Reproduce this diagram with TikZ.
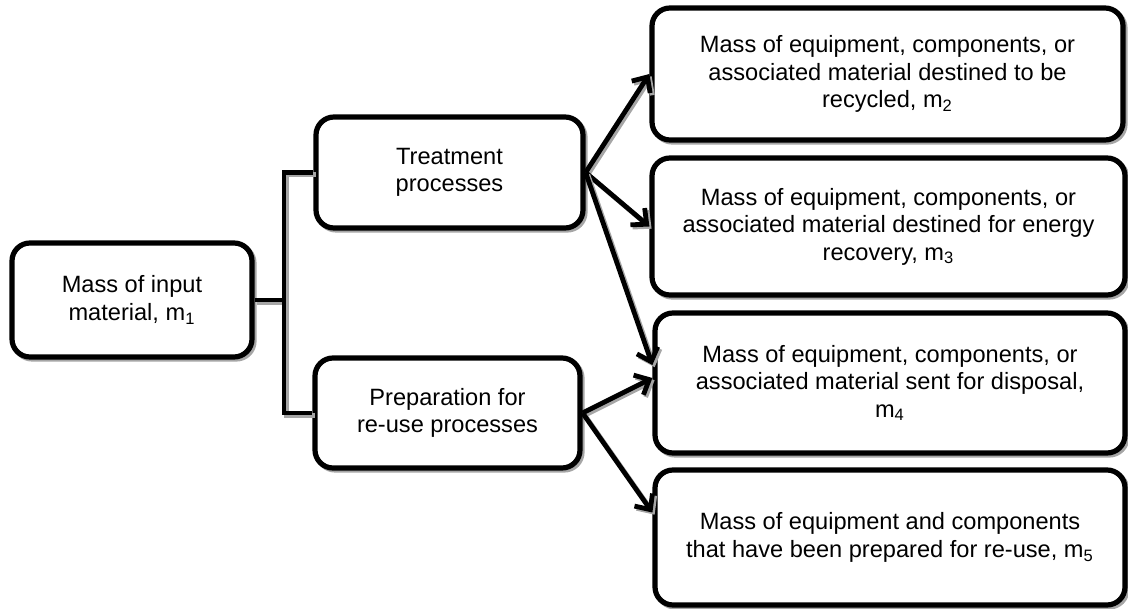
\documentclass[tikz,border=0pt]{standalone}
\usepackage{fontspec}
\setmainfont{Liberation Sans}
\usetikzlibrary{arrows.meta,calc}
\begin{document}
\begin{tikzpicture}[x=0.5pt,y=-0.5pt,
  shad/.style={preaction={draw=black!35, line width=2.4pt, transform canvas={shift={(1.1pt,-1.1pt)}}}},
  box/.style={draw, line width=2.6pt, rounded corners=9pt, fill=white, align=center, inner sep=0pt, font=\fontsize{11.8}{13.8}\selectfont, shad},
  conn/.style={line width=2.4pt, shad},
  arr/.style={conn, -{Straight Barb[length=6pt,width=11pt]}}
]
\useasboundingbox (0,0) rectangle (1128,609);

\node[box, minimum width=120pt, minimum height=57pt] (A) at (132,300) {Mass of input\\material, m\textsubscript{1}};
\node[box, minimum width=133.5pt, minimum height=55.5pt] (T) at (449.5,172.5) {Treatment\\processes};
\node[box, minimum width=132.5pt, minimum height=55pt] (P) at (447.5,413) {Preparation for\\re-use processes};
\node[box, minimum width=235.5pt, minimum height=66pt] (R1) at (887.5,74) {Mass of equipment, components, or\\associated material destined to be\\recycled, m\textsubscript{2}};
\node[box, minimum width=236.5pt, minimum height=68.5pt] (R2) at (888.5,226.5) {Mass of equipment, components, or\\associated material destined for energy\\recovery, m\textsubscript{3}};
\node[box, minimum width=235pt, minimum height=70pt] (R3) at (890,383) {Mass of equipment, components, or\\associated material sent for disposal,\\m\textsubscript{4}};
\node[box, minimum width=235pt, minimum height=67.5pt] (R4) at (890,537.5) {Mass of equipment and components\\that have been prepared for re-use, m\textsubscript{5}};

\coordinate (bx) at (284,300);
\draw[conn] (A.east) -- (A.east -| bx);
\draw[conn] (T.west) -| (bx) |- (P.west);

\draw[arr] (T.east) -- (R1.west);
\draw[arr] (T.east) -- (R2.west);
\draw[arr] (T.east) -- ($(R3.west)+(0,-18)$);
\draw[arr] (P.east) -- ($(R3.west)+(0,-5)$);
\draw[arr] (P.east) -- ($(R4.west)+(0,-25)$);
\end{tikzpicture}
\end{document}
